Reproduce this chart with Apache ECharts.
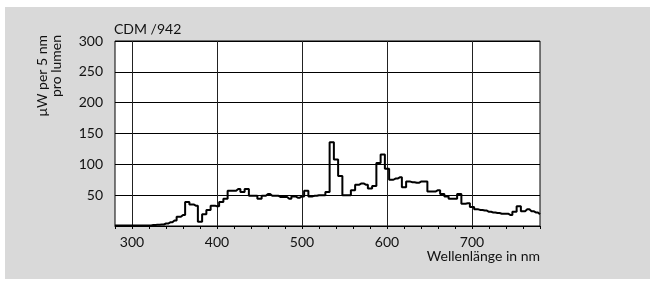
<!DOCTYPE html>
<html>
<head>
<meta charset="utf-8">
<script src="https://cdn.jsdelivr.net/npm/echarts@6/dist/echarts.min.js"></script>
<style>
  html, body { margin: 0; padding: 0; background: #fff; }
  #chart { position: absolute; left: 5px; top: 7px; width: 645px; height: 272px; background: #d9d9d9; }
</style>
</head>
<body>
<div id="chart"></div>
<script>
// spectrum in 5 nm steps
const wavelengths = [
  280, 285, 290, 295, 300, 305, 310, 315, 320, 325, 330, 335, 340, 345, 350, 355, 360, 365, 370, 375,
  380, 385, 390, 395, 400, 405, 410, 415, 420, 425, 430, 435, 440, 445, 450, 455, 460, 465, 470, 475,
  480, 485, 490, 495, 500, 505, 510, 515, 520, 525, 530, 535, 540, 545, 550, 555, 560, 565, 570, 575,
  580, 585, 590, 595, 600, 605, 610, 615, 620, 625, 630, 635, 640, 645, 650, 655, 660, 665, 670, 675,
  680, 685, 690, 695, 700, 705, 710, 715, 720, 725, 730, 735, 740, 745, 750, 755, 760, 765, 770, 775,
  780
]
const power = [
  1, 1, 1, 1, 1, 1, 1, 1, 1, 1.5, 2, 2.5, 4, 6, 9, 15, 18, 39, 35, 33,
  7, 19, 26, 33, 32, 39, 44, 57, 57, 60, 55, 60, 49, 49, 44, 49, 52, 49, 49, 47,
  47, 44, 48, 46, 48, 57, 48, 49, 50, 50, 55, 136, 108, 81, 50, 50, 58, 67, 69, 67,
  61, 65, 102, 116, 93, 75, 77, 79, 63, 72, 71, 70, 72, 72, 56, 56, 58, 52, 48, 44,
  44, 52, 36, 37, 31, 27, 26, 25, 23, 22, 21, 20, 20, 18, 23, 32, 24, 27, 24, 22,
  19
]
const xLabels = [300, 400, 500, 600, 700]
const yLabels = [50, 100, 150, 200, 250, 300]

const font = 'Lato, "Open Sans", sans-serif'
const chart = echarts.init(document.getElementById('chart'))

chart.setOption({
  animation: false,
  title: {
    text: 'CDM /942',
    left: 109,
    top: 15,
    padding: 0,
    textStyle: { fontFamily: font, fontSize: 14, fontWeight: 'normal', color: '#111' }
  },
  graphic: [{
    // y axis title, rotated
    type: 'text',
    x: 30,
    y: 28,
    rotation: Math.PI / 2,
    style: {
      text: 'μW per 5 nm\npro lumen',
      align: 'right',
      verticalAlign: 'top',
      font: '14px ' + font,
      lineHeight: 14,
      fill: '#111'
    }
  }, {
    // x axis title
    type: 'text',
    x: 535,
    y: 242,
    style: {
      text: 'Wellenlänge in nm',
      align: 'right',
      verticalAlign: 'top',
      font: '14px ' + font,
      fill: '#111'
    }
  }],
  grid: {
    left: 110,
    top: 34,
    right: 110,
    bottom: 53,
    show: true,
    backgroundColor: '#fff',
    borderColor: '#000',
    borderWidth: 1
  },
  xAxis: {
    type: 'value',
    min: 280,
    max: 780,
    interval: 20,
    axisLine: { show: true, lineStyle: { color: '#000', width: 1 } },
    axisTick: { show: true, inside: false, length: 3, lineStyle: { color: '#000' } },
    axisLabel: {
      margin: 9,
      fontFamily: font, fontSize: 14, color: '#111',
      formatter: v => xLabels.includes(v) ? String(v) : ''
    },
    splitLine: {
      show: true,
      // only every 100 nm gets a grid line
      lineStyle: { color: ['rgba(0,0,0,0)', '#222', 'rgba(0,0,0,0)', 'rgba(0,0,0,0)', 'rgba(0,0,0,0)'], width: 1 }
    }
  },
  yAxis: {
    type: 'value',
    min: 0,
    max: 300,
    interval: 50,
    axisLine: { show: false },
    axisTick: { show: false },
    axisLabel: {
      margin: 12,
      fontFamily: font, fontSize: 14, color: '#111',
      formatter: v => yLabels.includes(v) ? String(v) : ''
    },
    splitLine: { show: true, lineStyle: { color: '#000', width: 1 } }
  },
  series: [{
    type: 'line',
    step: 'middle',
    data: wavelengths.map((w, i) => [w, power[i]]),
    symbol: 'none',
    lineStyle: { color: '#000', width: 2 },
    z: 5
  }]
})
</script>
</body>
</html>
